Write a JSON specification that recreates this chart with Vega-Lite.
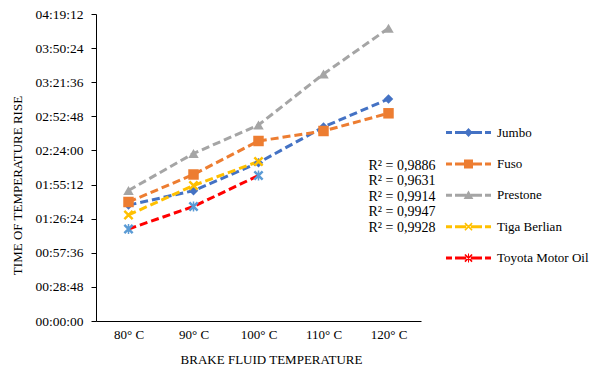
{
  "$schema": "https://vega.github.io/schema/vega-lite/v6.json",
  "width": 325,
  "height": 307,
  "autosize": {"type": "none"},
  "padding": {"left": 96, "top": 14, "right": 176, "bottom": 50},
  "background": "white",
  "config": {
    "view": {"stroke": null},
    "font": "Liberation Serif",
    "axis": {
      "grid": false,
      "domainColor": "#000000",
      "tickColor": "#000000",
      "labelColor": "#000000",
      "titleColor": "#000000",
      "labelFont": "Liberation Serif",
      "titleFont": "Liberation Serif",
      "titleFontWeight": "normal",
      "labelFontSize": 13,
      "titleFontSize": 13
    },
    "legend": {"labelFont": "Liberation Serif", "labelFontSize": 13, "labelColor": "#000000", "padding": 0}
  },
  "data": {
    "values": [
      {"series": "Jumbo", "temp": 80, "seconds": 5870},
      {"series": "Jumbo", "temp": 90, "seconds": 6601},
      {"series": "Jumbo", "temp": 100, "seconds": 8020},
      {"series": "Jumbo", "temp": 110, "seconds": 9828},
      {"series": "Jumbo", "temp": 120, "seconds": 11247},
      {"series": "Fuso", "temp": 80, "seconds": 6029},
      {"series": "Fuso", "temp": 90, "seconds": 7422},
      {"series": "Fuso", "temp": 100, "seconds": 9119},
      {"series": "Fuso", "temp": 110, "seconds": 9625},
      {"series": "Fuso", "temp": 120, "seconds": 10522},
      {"series": "Prestone", "temp": 80, "seconds": 6611},
      {"series": "Prestone", "temp": 90, "seconds": 8486},
      {"series": "Prestone", "temp": 100, "seconds": 9929},
      {"series": "Prestone", "temp": 110, "seconds": 12513},
      {"series": "Prestone", "temp": 120, "seconds": 14828},
      {"series": "Tiga Berlian", "temp": 80, "seconds": 5370},
      {"series": "Tiga Berlian", "temp": 90, "seconds": 6864},
      {"series": "Tiga Berlian", "temp": 100, "seconds": 8080},
      {"series": "Toyota Motor Oil", "temp": 80, "seconds": 4661},
      {"series": "Toyota Motor Oil", "temp": 90, "seconds": 5801},
      {"series": "Toyota Motor Oil", "temp": 100, "seconds": 7371}
    ]
  },
  "encoding": {
    "x": {
      "field": "temp",
      "type": "ordinal",
      "scale": {"type": "point", "domain": [80, 90, 100, 110, 120], "padding": 0.5},
      "axis": {
        "title": "BRAKE FLUID TEMPERATURE",
        "labelAngle": 0,
        "ticks": false,
        "labelPadding": 7,
        "titlePadding": 12,
        "titleX": 175,
        "labelFont": "Liberation Serif",
        "titleFont": "Liberation Serif",
        "labelExpr": "datum.label + '° C'"
      }
    },
    "y": {
      "field": "seconds",
      "type": "quantitative",
      "scale": {"domain": [0, 15552], "nice": false, "zero": true},
      "axis": {
        "title": "TIME OF TEMPERATURE RISE",
        "values": [0, 1728, 3456, 5184, 6912, 8640, 10368, 12096, 13824, 15552],
        "labelExpr": "utcFormat(datum.value * 1000, '%H:%M:%S')",
        "labelFont": "Liberation Serif",
        "titleFont": "Liberation Serif",
        "labelFontSize": 13.5,
        "tickSize": 5,
        "labelPadding": 8,
        "titlePadding": 10,
        "titleY": 171
      }
    }
  },
  "layer": [
    {
      "mark": {"type": "point", "filled": true, "opacity": 0},
      "encoding": {
        "color": {
          "field": "series",
          "type": "nominal",
          "scale": {
            "domain": ["Jumbo", "Fuso", "Prestone", "Tiga Berlian", "Toyota Motor Oil"],
            "range": ["#4472C4", "#ED7D31", "#A5A5A5", "#FFC000", "#FF0000"]
          },
          "legend": {
            "title": null,
            "orient": "none",
            "legendX": 365,
            "legendY": 111,
            "symbolSize": 225,
            "symbolStrokeWidth": 0,
            "symbolOpacity": 1,
            "labelOffset": 21,
            "labelFont": "Liberation Serif",
            "labelFontSize": 13,
            "rowPadding": 16.4
          }
        },
        "shape": {
          "field": "series",
          "type": "nominal",
          "scale": {
            "domain": ["Jumbo", "Fuso", "Prestone", "Tiga Berlian", "Toyota Motor Oil"],
            "range": [
              "M-3,-0.2H-2.2V0.2H-3Z M-1.8,-0.2H-0.3V0.2H-1.8Z M0.3,-0.2H1.8V0.2H0.3Z M2.2,-0.2H3V0.2H2.2Z M0,-0.6L0.55,0L0,0.6L-0.55,0Z",
              "M-3,-0.2H-2.2V0.2H-3Z M-1.8,-0.2H-0.3V0.2H-1.8Z M0.3,-0.2H1.8V0.2H0.3Z M2.2,-0.2H3V0.2H2.2Z M-0.6,-0.6H0.6V0.6H-0.6Z",
              "M-3,-0.2H-2.2V0.2H-3Z M-1.8,-0.2H-0.3V0.2H-1.8Z M0.3,-0.2H1.8V0.2H0.3Z M2.2,-0.2H3V0.2H2.2Z M0,-0.65L0.65,0.5H-0.65Z",
              "M-3,-0.2H-2.2V0.2H-3Z M-1.8,-0.2H-0.3V0.2H-1.8Z M0.3,-0.2H1.8V0.2H0.3Z M2.2,-0.2H3V0.2H2.2Z M-0.55,-0.4L-0.4,-0.55L0.55,0.4L0.4,0.55Z M0.4,-0.55L0.55,-0.4L-0.4,0.55L-0.55,0.4Z",
              "M-3,-0.2H-2.2V0.2H-3Z M-1.8,-0.2H-0.3V0.2H-1.8Z M0.3,-0.2H1.8V0.2H0.3Z M2.2,-0.2H3V0.2H2.2Z M-0.55,-0.4L-0.4,-0.55L0.55,0.4L0.4,0.55Z M0.4,-0.55L0.55,-0.4L-0.4,0.55L-0.55,0.4Z M-0.07,-0.6H0.07V0.6H-0.07Z"
            ]
          },
          "legend": {
            "title": null,
            "orient": "none",
            "legendX": 365,
            "legendY": 111,
            "symbolSize": 225,
            "symbolStrokeWidth": 0,
            "symbolOpacity": 1,
            "labelOffset": 21,
            "labelFont": "Liberation Serif",
            "labelFontSize": 13,
            "rowPadding": 16.4
          }
        }
      }
    },
    {
      "mark": {"type": "line", "strokeDash": [8, 4], "strokeWidth": 3},
      "encoding": {
        "color": {"field": "series", "type": "nominal", "legend": null}
      }
    },
    {
      "transform": [{"filter": "datum.series === 'Jumbo'"}],
      "mark": {"type": "point", "filled": true, "opacity": 1, "shape": "diamond", "size": 90, "color": "#4472C4"}
    },
    {
      "transform": [{"filter": "datum.series === 'Fuso'"}],
      "mark": {"type": "point", "filled": true, "opacity": 1, "shape": "square", "size": 110, "color": "#ED7D31"}
    },
    {
      "transform": [{"filter": "datum.series === 'Prestone'"}],
      "mark": {"type": "point", "filled": true, "opacity": 1, "shape": "triangle-up", "size": 110, "color": "#A5A5A5"}
    },
    {
      "transform": [{"filter": "datum.series === 'Tiga Berlian'"}],
      "mark": {"type": "point", "filled": true, "opacity": 1, "shape": "M-1,-0.65L-0.65,-1L1,0.65L0.65,1Z M0.65,-1L1,-0.65L-0.65,1L-1,0.65Z", "size": 100, "color": "#FFC000"}
    },
    {
      "transform": [{"filter": "datum.series === 'Toyota Motor Oil'"}],
      "mark": {"type": "point", "filled": true, "opacity": 1, "shape": "M-1,-0.65L-0.65,-1L1,0.65L0.65,1Z M0.65,-1L1,-0.65L-0.65,1L-1,0.65Z M-0.15,-1H0.15V1H-0.15Z", "size": 100, "color": "#5B9BD5"}
    },
    {
      "transform": [{"filter": "datum.series === 'Jumbo' && datum.temp === 120"}],
      "mark": {"type": "text", "align": "left", "baseline": "top", "dx": -20, "lineHeight": 15.4, "font": "Liberation Serif", "fontSize": 14, "color": "#000000"},
      "encoding": {
        "y": {"datum": 8207, "type": "quantitative"},
        "text": {"value": ["R² = 0,9886", "R² = 0,9631", "R² = 0,9914", "R² = 0,9947", "R² = 0,9928"]}
      }
    }
  ]
}
